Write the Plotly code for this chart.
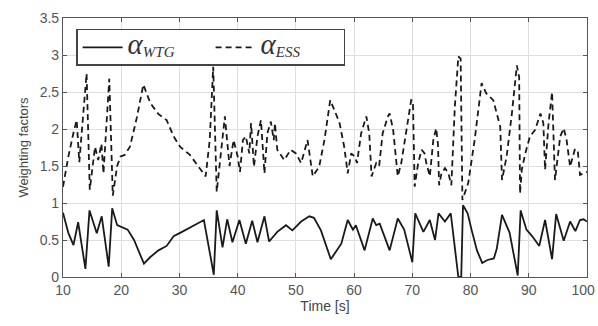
import plotly.graph_objects as go

# --- data ---
t_wtg = [10, 10.9, 11.8, 12.6, 13.85, 14.55, 15.8, 16.65, 17.85, 18.45, 19.3, 20.2, 21.1, 22.2,
         23.9, 25.0, 26.4, 27.8, 29.0, 30.2, 32.2, 34.2, 35.9, 36.4, 37.4, 38.2, 39.1, 40.3,
         41.4, 42.5, 43.4, 44.6, 45.4, 46.8, 48.3, 49.4, 50.9, 52.3, 53.1, 54.3, 56.0, 57.8,
         58.9, 59.8, 60.3, 61.8, 63.2, 63.8, 64.4, 66.1, 67.5, 68.6, 70.0, 70.5, 71.9, 73.0,
         73.9, 74.5, 75.6, 76.6, 77.9, 78.4, 78.7, 79.5, 80.2, 81.1, 82.0, 82.9, 84.0, 84.5,
         85.4, 86.7, 88.1, 88.6, 89.6, 90.6, 91.8, 92.8, 94.0, 94.7, 96.0, 97.1, 98.0, 98.8,
         99.4, 100]
alpha_wtg = [0.87, 0.6, 0.43, 0.74, 0.11, 0.9, 0.59, 0.82, 0.14, 0.93, 0.7, 0.67, 0.64, 0.5,
             0.18, 0.27, 0.36, 0.42, 0.55, 0.6, 0.68, 0.77, 0.03, 0.9, 0.4, 0.78, 0.47, 0.77,
             0.45, 0.76, 0.47, 0.82, 0.48, 0.61, 0.7, 0.63, 0.75, 0.82, 0.8, 0.63, 0.24, 0.45,
             0.77, 0.64, 0.7, 0.36, 0.79, 0.7, 0.72, 0.36, 0.79, 0.64, 0.2, 0.86, 0.61, 0.77,
             0.5, 0.86, 0.75, 0.86, 0.0, 0.0, 0.97, 0.86, 0.63, 0.36, 0.19, 0.23, 0.25, 0.38,
             0.84, 0.6, 0.02, 0.9, 0.64, 0.55, 0.42, 0.77, 0.24, 0.85, 0.49, 0.75, 0.62, 0.77,
             0.78, 0.75]

t_ess = [10, 10.9, 11.8, 12.35, 12.8, 13.2, 14.05, 14.6, 15.5, 16.05, 16.6, 16.95, 17.95,
         18.55, 19.3, 19.9, 20.6, 21.5, 22.7, 23.8, 25.0, 26.4, 27.8, 29.0, 30.1, 31.8, 34.1,
         34.5, 35.2, 35.8, 36.4, 37.8, 38.6, 39.3, 40.0, 40.4, 40.9, 41.4, 42.0, 42.3, 42.8,
         43.4, 44.0, 44.6, 45.1, 45.7, 46.2, 46.4, 46.8, 48.0, 49.1, 50.0, 50.9, 52.0, 52.9,
         54.0, 54.9, 55.9, 56.6, 57.5, 58.3, 58.9, 59.5, 60.1, 60.5, 61.2, 62.1, 62.6, 63.0,
         63.8, 64.3, 64.9, 65.8, 66.1, 66.7, 67.5, 68.1, 68.9, 69.8, 70.1, 70.4, 71.0, 71.6,
         72.1, 72.4, 73.0, 73.6, 74.1, 74.4, 74.6, 75.0, 75.6, 76.2, 76.7, 77.3, 77.9, 78.3,
         78.6, 79.6, 80.7, 81.9, 82.7, 83.9, 85.1, 85.4, 86.2, 87.1, 87.95, 88.35, 88.5, 88.8,
         89.4, 90.2, 91.1, 92.0, 92.5, 92.8, 93.4, 94.0, 94.5, 95.4, 96.0, 96.5, 97.1, 97.9,
         98.4, 98.8, 99.4, 100]
alpha_ess = [1.22, 1.62, 1.95, 2.12, 1.55, 1.95, 2.75, 1.18, 1.76, 1.58, 1.8, 1.4, 2.68,
             1.1, 1.5, 1.63, 1.65, 1.76, 2.16, 2.6, 2.35, 2.2, 2.12, 1.9, 1.76, 1.65, 1.4,
             1.36, 1.85, 2.84, 1.15, 2.17, 1.5, 1.85, 1.63, 1.42, 1.85, 1.9, 1.67, 2.08, 1.49,
             1.9, 2.12, 1.4, 1.94, 2.1, 1.85, 2.08, 1.72, 1.58, 1.72, 1.67, 1.54, 1.85, 1.36,
             1.49, 1.85, 2.39, 2.26, 2.08, 1.76, 1.4, 1.67, 1.63, 1.54, 1.94, 2.17, 1.94, 1.36,
             1.54, 1.5, 1.94, 2.17, 2.21, 1.99, 1.36, 1.54, 1.94, 2.39, 2.38, 1.22, 1.54, 1.72,
             1.67, 1.54, 1.36, 1.85, 2.01, 1.8, 1.24, 1.4, 1.47, 1.4, 1.24, 2.3, 2.98, 2.95,
             1.04, 1.27, 1.85, 2.62, 2.48, 2.39, 2.03, 1.31, 1.63, 2.21, 2.86, 2.7, 1.13, 1.45,
             1.67, 1.9, 1.99, 2.21, 2.08, 1.45, 2.08, 2.5, 1.31, 1.9, 2.01, 1.85, 1.49, 1.72,
             1.72, 1.38, 1.4, 1.42]

x_ticks = [10, 20, 30, 40, 50, 60, 70, 80, 90, 100]
x_tick_text = ["10", "20", "30", "40", "50", "60", "70", "80", "90", "100\u00a0\u00a0"]
y_ticks = [0, 0.5, 1, 1.5, 2, 2.5, 3, 3.5]
y_tick_text = ["0", "0.5", "1", "1.5", "2", "2.5", "3", "3.5"]

name_wtg = ("<span style='font-size:29px'><i>α</i></span>"
            "<sub><span style='font-size:15px'><i>WTG</i></span></sub>")
name_ess = ("<span style='font-size:29px'><i>α</i></span>"
            "<sub><span style='font-size:15px'><i>ESS</i></span></sub>")

fig = go.Figure()
fig.add_trace(go.Scatter(x=t_wtg, y=alpha_wtg, mode="lines", name=name_wtg,
                         line=dict(color="#1a1a1a", width=1.8)))
fig.add_trace(go.Scatter(x=t_ess, y=alpha_ess, mode="lines", name=name_ess,
                         line=dict(color="#1a1a1a", width=1.8, dash="6px,4px")))

axis_common = dict(showline=True, linecolor="#555555", linewidth=1.2, mirror="allticks",
                   ticks="inside", ticklen=4, tickcolor="#555555", automargin=False,
                   showgrid=True, gridcolor="#dedede", gridwidth=1, zeroline=False,
                   ticklabeloverflow="allow",
                   tickfont=dict(family="Liberation Sans, Arial", size=14, color="#555555"))

fig.update_xaxes(range=[10, 100], tickvals=x_ticks, ticktext=x_tick_text, **axis_common,
                 title=dict(text="Time [s]", standoff=2,
                            font=dict(family="Liberation Sans, Arial", size=14, color="#444444")))
fig.update_yaxes(range=[0, 3.5], tickvals=y_ticks, ticktext=y_tick_text, **axis_common,
                 title=dict(text="Weighting factors", standoff=8,
                            font=dict(family="Liberation Sans, Arial", size=13, color="#444444")))

fig.update_layout(
    width=598, height=326,
    margin=dict(l=63, r=11, t=18, b=49),
    plot_bgcolor="white", paper_bgcolor="white",
    legend=dict(orientation="h", x=0.025, y=0.958, xanchor="left", yanchor="top",
                bgcolor="white", bordercolor="#444444", borderwidth=1.5,
                font=dict(family="Liberation Serif, DejaVu Serif, serif", size=16, color="#333333"),
                itemwidth=40, entrywidth=78, tracegroupgap=0),
)

fig.write_html(
    "out.html",
    config={"displayModeBar": False},
    post_script="document.body.style.margin='0';"
                "document.documentElement.style.overflow='hidden';",
)
